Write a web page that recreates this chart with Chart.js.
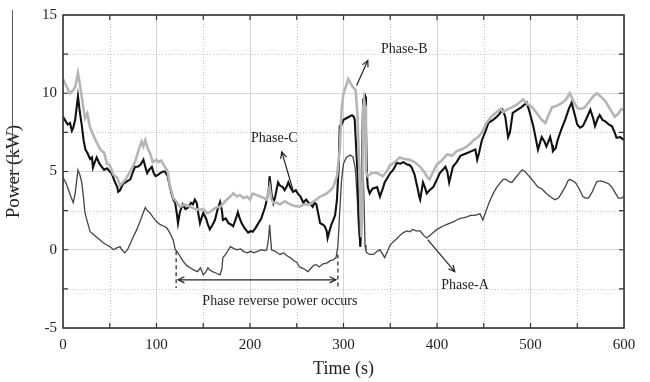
<!DOCTYPE html>
<html>
<head>
<meta charset="utf-8">
<script src="https://cdn.jsdelivr.net/npm/chart.js@4.4.1/dist/chart.umd.min.js"></script>
<style>
  html, body { margin: 0; padding: 0; background: #fff; }
  #wrap { width: 650px; height: 382px; position: relative; }
</style>
</head>
<body>
<div id="wrap"><canvas id="powerChart"></canvas></div>
<script>
// Phase-B (light grey) : time (s) / power (kW)
const tB = [0,4,7.5,11,13,16,18,20,23.5,26,29,34,40,44,47,50,54,58,61,64,68,72,77,81,84,86,88,91,93,96,100,102,105,109,112,114,118,121,125,130,136,141,146,150,154,157,160,164,168,172,175,179,182,186,189,193,197,200,203,207,211,215,218,221,223,225,229,232,237,243,248,253,258,264,268,271,275,279,282,286,289,293,296,298,300,303,305,308,310,313,315,317,318,319,320,321,322,323,324,326,330,336,342,346,350,355,360,365,371,376,382,386,390,392,396,400,405,411,416,421,426,432,436,439,444,448,453,458,464,468,471,476,480,486,492,497,502,507,512,516,520,523,528,534,538,542,546,550,554,558,562,567,571,575,580,585,590,594,597,600];
const pB = [10.9,10.4,10.0,10.2,10.4,11.3,10.6,9.8,8.4,8.7,7.8,7.1,6.4,6.2,5.5,5.4,4.8,4.6,4.1,4.3,4.6,5.0,5.6,6.4,6.9,6.6,7.0,6.4,6.2,5.6,5.75,5.6,5.7,5.3,5.0,4.2,3.3,3.1,2.75,2.9,2.75,2.6,2.55,2.6,2.35,2.4,2.55,2.7,2.75,3.0,3.2,3.4,3.6,3.4,3.5,3.3,3.4,3.2,3.6,3.5,3.4,3.3,3.2,4.0,3.2,3.0,3.0,2.9,3.1,2.9,2.8,2.75,2.9,2.9,3.1,3.2,3.4,3.5,3.6,3.8,4.0,4.7,6.4,9.0,10.0,10.5,10.9,10.6,10.4,10.2,8.5,5.0,3.0,0.8,2.5,9.0,9.6,9.2,5.0,4.7,4.9,4.9,4.7,5.0,5.4,5.6,5.9,5.8,5.75,5.6,5.3,5.0,4.6,4.5,5.0,5.45,5.7,6.1,6.0,6.3,6.4,6.6,6.8,7.0,7.2,7.5,8.1,8.5,8.8,9.0,8.8,9.0,9.1,9.3,9.6,9.3,9.1,8.7,8.3,8.1,8.7,9.1,9.2,9.4,9.6,10.0,9.5,9.05,9.0,9.1,9.4,9.8,10.0,9.8,9.5,9.0,8.5,8.7,9.0,8.9];

// Phase-C (black)
const tC = [0,2,5,7.5,9.5,11,13,16,18,20,22,24,26,29,31,32,34,36,39,41.5,44,47,50,52,55,58,59,61,64,68,72,75,77,80,83,86,88,90,92,95,97,99,102,104,107,109,112,114,116,118,120,122,123,125,128,131,134,137,139,141,143,145,146.5,148,150,153,155,157,160,162.5,165,168,170,171,174,177,180,182,185,187,189,191,194,198,201,203,206,209,212,214,216,218,220,221,223,225,227,230,232,235,237,239,241,243,246,249,251,254,257,260,262,265,267,269,271,273,275,278,280,282,283,285,287,289,291,293,295,296,298,300,303,306,309,311,312,314,315,316,318,319,320,321,323,324,325,326,328,331,336,339,342,344,347,350,353,355,357,361,364,368,371,373,376,379,381,382,385,387,389,392,396,400,403,406,409,411,413,415,417,421,425,429,433,437,441,443,445,448,452,455,460,464,467,470,473,476,478,481,485,490,496,499,503,506,508,510,512,515,517,519,521,523,524,527,529,533,537,541,544,547,550,553,556,560,564,567,569,572,574,577,580,584,587,590,592,596,600];
const pC = [8.5,8.3,8.0,8.1,7.6,7.8,8.3,9.8,8.8,8.0,7.0,6.4,6.2,5.8,5.9,5.25,5.6,5.9,5.5,5.3,5.1,5.2,5.0,4.9,4.4,4.0,3.7,3.8,4.2,4.35,4.5,5.0,5.3,5.3,5.45,5.75,5.3,4.9,5.1,5.3,4.9,4.7,4.8,4.9,5.0,5.0,4.7,4.1,3.6,3.2,3.0,2.2,1.7,2.4,2.9,2.6,2.7,3.0,2.9,3.2,3.0,2.2,1.7,2.0,2.35,2.0,1.6,1.3,1.6,1.9,2.5,3.05,2.5,1.9,2.0,1.7,1.6,1.5,2.0,2.4,2.0,1.7,1.4,1.1,1.2,1.15,1.4,1.7,2.0,2.35,2.7,3.2,3.8,4.7,3.6,3.0,3.4,4.3,4.1,4.0,3.8,4.0,4.3,4.0,3.7,3.8,3.6,3.4,3.0,3.2,3.05,2.9,2.75,3.0,2.9,2.3,1.7,1.6,1.5,1.2,0.75,1.2,1.6,1.9,2.2,3.2,5.5,7.9,8.0,8.3,8.4,8.5,8.6,8.5,8.3,6.0,4.9,2.5,0.2,2.0,6.5,9.6,9.8,8.0,4.9,4.0,3.6,3.9,4.0,3.4,3.9,4.3,4.6,4.9,5.1,5.3,5.55,5.5,5.6,5.45,5.4,5.25,4.8,4.0,3.4,3.2,4.3,4.0,3.6,3.8,4.0,4.5,4.9,5.1,5.3,5.0,4.3,4.8,5.3,5.6,6.0,6.1,6.2,6.3,6.4,5.75,6.2,7.0,7.6,8.1,8.3,8.5,8.7,8.95,8.5,7.2,7.5,8.75,8.9,9.1,9.4,8.8,7.9,7.0,6.4,6.8,7.2,6.9,6.6,6.9,7.2,6.7,6.3,6.5,7.0,7.7,8.3,9.0,9.4,8.7,8.0,7.8,7.9,8.4,8.95,8.4,7.9,8.4,8.6,8.3,8.2,8.0,7.9,7.5,7.15,7.2,7.0];

// Phase-A (dark grey)
const tA = [0,3,6,9,11,13,16,18,20,22,23.5,26,29,32,36,40,43,47,50,54,57,61,63,66,69,72,75,79,83,86,88,90,93,96,100,104,108,111,115,118,120,122,125,128,132,136,140,144,147,150,153,155,157,160,164,168,170,171,174,177,179,182,186,190,193,197,201,204,208,212,216,218,220,221,222,223,227,232,236,240,243,247,250,253,257,262,265,268,271,274,278,282,286,289,292,294,296,298,300,303,307,310,312,313,315,316,318,319,320,321,322,323,324,325,328,332,336,339,342,344,347,350,353,357,360,364,368,371,374,378,382,386,389,392,396,400,403,406,410,414,418,421,425,429,432,436,440,443,446,449,452,455,457,461,464,468,471,474,477,480,484,488,491,494,497,500,504,508,512,517,521,526,530,533,537,540,542,545,548,552,556,559,562,566,569,571,575,580,584,587,590,594,597,600];
const pA = [4.6,4.3,3.8,3.3,3.0,3.6,5.1,4.8,4.3,3.3,2.35,1.8,1.15,1.0,0.8,0.6,0.45,0.3,0.2,0.0,0.1,0.2,0.0,-0.2,0.0,0.4,0.8,1.3,1.9,2.4,2.7,2.5,2.35,2.1,1.8,1.6,1.5,1.4,1.0,0.6,0.0,-0.1,-0.4,-0.7,-1.0,-1.15,-1.3,-1.4,-1.15,-1.6,-1.4,-1.15,-1.3,-1.4,-1.5,-1.6,-1.2,-0.5,-0.3,0.0,0.2,0.1,0.0,0.05,-0.1,-0.2,-0.1,-0.2,-0.1,0.0,-0.05,0.0,0.8,1.6,0.8,0.0,-0.1,-0.3,-0.2,-0.4,-0.5,-0.7,-0.8,-1.1,-1.2,-1.4,-1.2,-1.0,-0.95,-1.1,-0.9,-0.85,-0.7,-0.65,-0.5,0.2,2.5,4.5,5.5,5.9,6.05,5.95,5.4,4.9,3.0,1.5,0.2,2.0,4.5,5.0,3.0,0.3,-0.1,-0.2,-0.3,-0.3,-0.1,0.0,-0.3,-0.5,-0.1,0.3,0.5,0.7,0.9,1.1,1.2,1.15,1.3,1.2,1.2,0.9,0.75,0.9,1.1,1.3,1.4,1.5,1.6,1.7,1.8,1.9,2.0,2.05,2.1,2.2,2.2,2.25,2.3,1.9,2.4,2.9,3.2,3.7,4.0,4.3,4.5,4.5,4.35,4.3,4.6,4.9,5.1,5.0,4.8,4.6,4.3,4.0,3.9,3.6,3.4,3.2,3.3,3.6,4.0,4.4,4.5,4.4,4.3,3.9,3.4,3.3,3.3,3.7,4.1,4.35,4.4,4.3,4.2,4.0,3.7,3.3,3.3,3.4];

const xTicks = [0, 100, 200, 300, 400, 500, 600];
const yTicks = [-5, 0, 5, 10, 15];

// text callouts, in data units (time, kW)
const labelB = { text: 'Phase-B', at: [365, 12.8], from: [314, 10.5], to: [326, 12.1] };
const labelC = { text: 'Phase-C', at: [226, 7.15], from: [246, 3.8], to: [234, 6.25] };
const labelA = { text: 'Phase-A', at: [430, -2.25], from: [390, 0.65], to: [419, -1.4] };
const reverseSpan = [121, 294];
const reverseText = 'Phase reverse power occurs';

const SERIF = "'Liberation Serif', 'Times New Roman', serif";

function pts(t, p) {
    return t.map((v, i) => ({ x: v, y: p[i] }));
}

function arrowHead(ctx, x1, y1, x2, y2, size) {
    const a = Math.atan2(y2 - y1, x2 - x1);
    ctx.beginPath();
    ctx.moveTo(x2 - size * Math.cos(a - 0.45), y2 - size * Math.sin(a - 0.45));
    ctx.lineTo(x2, y2);
    ctx.lineTo(x2 - size * Math.cos(a + 0.45), y2 - size * Math.sin(a + 0.45));
    ctx.stroke();
}

// dotted minor grid, inward ticks, the frame and the callouts
const decorations = {
    id: 'decorations',
    beforeDatasetsDraw(chart) {
        const { ctx, chartArea: a, scales: { x, y } } = chart;
        ctx.save();
        ctx.strokeStyle = '#c8c8c8';
        ctx.lineWidth = 1;
        ctx.setLineDash([1, 2]);
        for (let t = 50; t < 600; t += 100) {
            const px = Math.round(x.getPixelForValue(t)) + 0.5;
            ctx.beginPath(); ctx.moveTo(px, a.top); ctx.lineTo(px, a.bottom); ctx.stroke();
        }
        for (let v = -2.5; v < 15; v += 5) {
            const py = Math.round(y.getPixelForValue(v)) + 0.5;
            ctx.beginPath(); ctx.moveTo(a.left, py); ctx.lineTo(a.right, py); ctx.stroke();
        }
        ctx.restore();
    },
    afterDatasetsDraw(chart) {
        const { ctx, chartArea: a, scales: { x, y } } = chart;
        ctx.save();
        ctx.strokeStyle = '#333';
        ctx.lineWidth = 1.2;
        for (let t = 50; t < 600; t += 50) {
            const px = x.getPixelForValue(t);
            ctx.beginPath();
            ctx.moveTo(px, a.bottom); ctx.lineTo(px, a.bottom - 5);
            ctx.moveTo(px, a.top); ctx.lineTo(px, a.top + 5);
            ctx.stroke();
        }
        for (let v = -2.5; v < 15; v += 2.5) {
            const py = y.getPixelForValue(v);
            ctx.beginPath();
            ctx.moveTo(a.left, py); ctx.lineTo(a.left + 5, py);
            ctx.moveTo(a.right, py); ctx.lineTo(a.right - 5, py);
            ctx.stroke();
        }
        ctx.lineWidth = 1.6;
        ctx.strokeRect(a.left, a.top, a.right - a.left, a.bottom - a.top);

        // callouts
        ctx.fillStyle = '#222';
        ctx.strokeStyle = '#222';
        ctx.lineWidth = 1.2;
        ctx.font = '14px ' + SERIF;
        ctx.textAlign = 'center';
        ctx.textBaseline = 'middle';
        [labelB, labelC, labelA].forEach(l => {
            const x1 = x.getPixelForValue(l.from[0]), y1 = y.getPixelForValue(l.from[1]);
            const x2 = x.getPixelForValue(l.to[0]), y2 = y.getPixelForValue(l.to[1]);
            ctx.beginPath(); ctx.moveTo(x1, y1); ctx.lineTo(x2, y2); ctx.stroke();
            arrowHead(ctx, x1, y1, x2, y2, 7);
            ctx.fillText(l.text, x.getPixelForValue(l.at[0]), y.getPixelForValue(l.at[1]));
        });

        // reverse power interval
        const xa = x.getPixelForValue(reverseSpan[0]);
        const xb = x.getPixelForValue(reverseSpan[1]);
        ctx.setLineDash([4, 3]);
        ctx.beginPath();
        ctx.moveTo(xa, y.getPixelForValue(-0.1)); ctx.lineTo(xa, y.getPixelForValue(-2.45));
        ctx.moveTo(xb, y.getPixelForValue(-0.3)); ctx.lineTo(xb, y.getPixelForValue(-2.45));
        ctx.stroke();
        ctx.setLineDash([]);
        const ym = y.getPixelForValue(-1.92);
        ctx.beginPath(); ctx.moveTo(xa + 2, ym); ctx.lineTo(xb - 2, ym); ctx.stroke();
        arrowHead(ctx, xb, ym, xa + 2, ym, 7);
        arrowHead(ctx, xa, ym, xb - 2, ym, 7);
        ctx.fillText(reverseText, x.getPixelForValue(232), y.getPixelForValue(-3.32));
        ctx.restore();
    },
    afterDraw(chart) {
        // thin rule beside the axis title
        const ctx = chart.ctx;
        ctx.save();
        ctx.strokeStyle = '#555';
        ctx.lineWidth = 1;
        ctx.beginPath(); ctx.moveTo(12.5, 10); ctx.lineTo(12.5, 190); ctx.stroke();
        ctx.restore();
    }
};

new Chart(document.getElementById('powerChart'), {
    type: 'line',
    data: {
        datasets: [
            { label: 'Phase-B', data: pts(tB, pB), borderColor: '#b5b5b5', borderWidth: 2.6 },
            { label: 'Phase-C', data: pts(tC, pC), borderColor: '#111', borderWidth: 2.1 },
            { label: 'Phase-A', data: pts(tA, pA), borderColor: '#444', borderWidth: 1.3 }
        ]
    },
    options: {
        responsive: true,
        maintainAspectRatio: false,
        animation: false,
        devicePixelRatio: 1,
        elements: { point: { radius: 0 }, line: { tension: 0 } },
        layout: { padding: { left: 0, right: 26, top: 15, bottom: 0 } },
        plugins: { legend: { display: false }, tooltip: { enabled: false } },
        scales: {
            x: {
                type: 'linear', min: 0, max: 600,
                afterFit: s => { s.height = 54; },
                afterBuildTicks: s => { s.ticks = xTicks.map(v => ({ value: v })); },
                grid: { color: '#d6d6d6', lineWidth: 1, drawTicks: false },
                border: { display: false },
                ticks: { color: '#222', padding: 8, font: { family: SERIF, size: 15 } },
                title: { display: true, text: 'Time (s)', color: '#222', padding: { top: 0, bottom: 2 }, font: { family: SERIF, size: 18 } }
            },
            y: {
                type: 'linear', min: -5, max: 15,
                afterFit: s => { s.width = 63; },
                afterBuildTicks: s => { s.ticks = yTicks.map(v => ({ value: v })); },
                grid: { color: '#d6d6d6', lineWidth: 1, drawTicks: false },
                border: { display: false },
                ticks: { color: '#222', padding: 6, font: { family: SERIF, size: 15 } },
                title: { display: true, text: 'Power (kW)', color: '#222', padding: { top: 3, bottom: 0 }, font: { family: SERIF, size: 19 } }
            }
        }
    },
    plugins: [decorations]
});
</script>
</body>
</html>
